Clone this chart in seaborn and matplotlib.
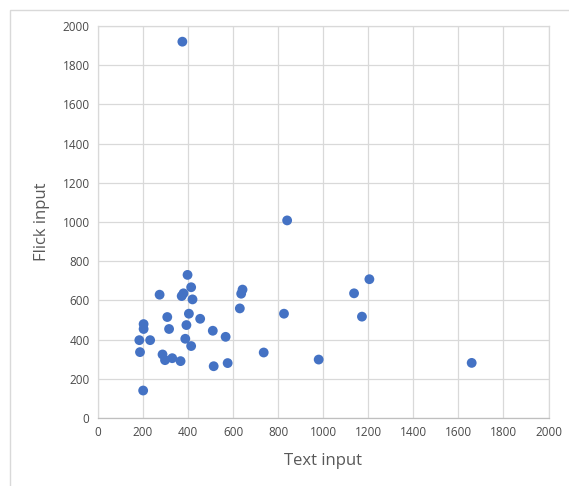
import pandas as pd
import seaborn as sns
import matplotlib.pyplot as plt
from matplotlib.patches import Rectangle

# values
text_input = [375, 840, 1205, 1137, 1172, 826, 980, 1659, 736, 630,
              636, 642, 567, 576, 514, 510, 454, 398, 414, 420,
              380, 372, 404, 393, 388, 414, 367, 330, 298, 287,
              316, 308, 274, 232, 203, 203, 184, 187, 201]
flick_input = [1920, 1008, 708, 636, 517, 532, 298, 281, 334, 559,
               634, 655, 414, 280, 264, 445, 506, 730, 667, 605,
               636, 622, 532, 474, 404, 367, 290, 305, 295, 324,
               454, 515, 629, 397, 479, 454, 397, 336, 140]
x_ticks = list(range(0, 2001, 200))
y_ticks = list(range(0, 2001, 200))

df = pd.DataFrame({"Text input": text_input, "Flick input": flick_input})

sns.set_theme(style="white")
plt.rcParams['font.family'] = ['Open Sans', 'DejaVu Sans']

fig = plt.figure(figsize=(5.69, 4.86), dpi=100)
ax = fig.add_axes([0.172, 0.140, 0.792, 0.8065])

sns.scatterplot(data=df, x="Text input", y="Flick input", ax=ax,
                color="#4472C4", s=50, edgecolor="none", zorder=3)

ax.set_xlim(0, 2000)
ax.set_ylim(0, 2000)
ax.set_xticks(x_ticks)
ax.set_yticks(y_ticks)
ax.grid(True, color="#d9d9d9", linewidth=0.9)
for name, sp in ax.spines.items():
    sp.set_visible(True)
    sp.set_color("#d9d9d9")
    sp.set_linewidth(0.9)
ax.spines["bottom"].set_color("#bfbfbf")
ax.tick_params(axis="both", length=0, labelsize=8.5, colors="#4a4a4a", pad=6)
ax.set_xlabel("Text input", fontsize=12, color="#595959", labelpad=10)
ax.set_ylabel("Flick input", fontsize=12, color="#595959", labelpad=9)

# light chart border like the Excel frame
fig.patches.append(Rectangle((10 / 569, -0.1), 1.2, 1 - 10 / 486 + 0.1,
                             transform=fig.transFigure, fill=False,
                             edgecolor="#d9d9d9", linewidth=1))

fig.savefig("out.png", dpi=100)
